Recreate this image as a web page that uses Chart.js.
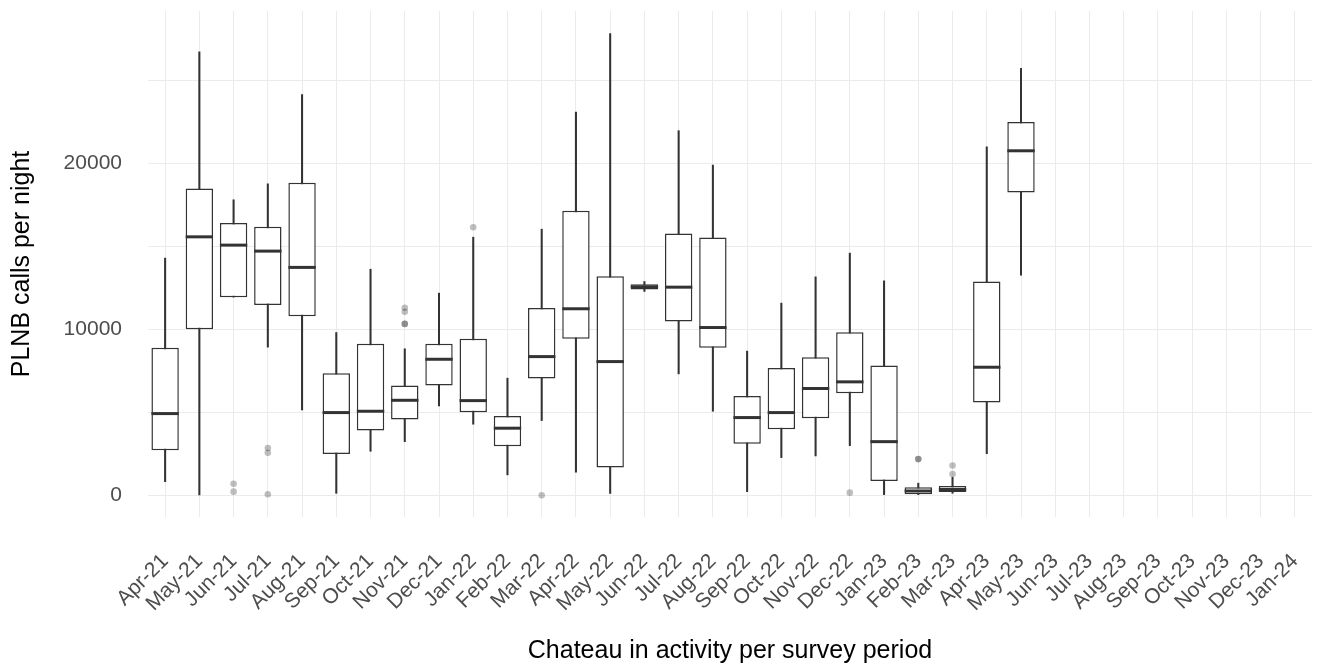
<!DOCTYPE html>
<html>
<head>
<meta charset="utf-8">
<script src="https://cdn.jsdelivr.net/npm/chart.js@4.4.1/dist/chart.umd.min.js"></script>
<style>
  html, body { margin: 0; padding: 0; background: #ffffff; }
  #c { display: block; }
</style>
</head>
<body>
<canvas id="c" width="1344" height="666"></canvas>
<script>
// ---- Data ----
const categories = ['Apr-21','May-21','Jun-21','Jul-21','Aug-21','Sep-21','Oct-21','Nov-21','Dec-21',
  'Jan-22','Feb-22','Mar-22','Apr-22','May-22','Jun-22','Jul-22','Aug-22','Sep-22','Oct-22','Nov-22','Dec-22',
  'Jan-23','Feb-23','Mar-23','Apr-23','May-23','Jun-23','Jul-23','Aug-23','Sep-23','Oct-23','Nov-23','Dec-23','Jan-24'];

const whiskerLow  = [820, 30, 11930, 8920, 5140, 120, 2650, 3230, 5380, 4280, 1230, 4500, 1390, 120, 12270, 7310, 5060, 220, 2270, 2370, 2990, 40, 40, 120, 2510, 13250, null, null, null, null, null, null, null, null];
const q1          = [2710, 10000, 11930, 11450, 10780, 2490, 3900, 4560, 6610, 5000, 2950, 7030, 9420, 1670, 12390, 10460, 8880, 3110, 3980, 4640, 6140, 860, 60, 200, 5580, 18230, null, null, null, null, null, null, null, null];
const median      = [4920, 15560, 15060, 14700, 13720, 4980, 5060, 5720, 8190, 5700, 4040, 8350, 11230, 8050, 12550, 12530, 10100, 4680, 4980, 6430, 6830, 3230, 260, 350, 7710, 20740, null, null, null, null, null, null, null, null];
const q3          = [8890, 18470, 16400, 16160, 18810, 7350, 9120, 6610, 9120, 9420, 4780, 11270, 17130, 13190, 12710, 15760, 15520, 5980, 7670, 8310, 9820, 7810, 480, 560, 12870, 22470, null, null, null, null, null, null, null, null];
const whiskerHigh = [14280, 26690, 17790, 18750, 24120, 9800, 13610, 8820, 12170, 15540, 7050, 16020, 23070, 27790, 12870, 21950, 19880, 8680, 11570, 13150, 14580, 12910, 730, 1080, 20980, 25700, null, null, null, null, null, null, null, null];

const outlierMonths = ['Jun-21','Jun-21','Jul-21','Jul-21','Jul-21','Nov-21','Nov-21','Nov-21','Nov-21','Jan-22','Mar-22','Dec-22','Feb-23','Feb-23','Mar-23','Mar-23'];
const outlierValues = [700, 220, 2850, 2560, 60, 11290, 11050, 10320, 10320, 16140, 0, 160, 2180, 2180, 1790, 1280];

const yTickValues = [0, 5000, 10000, 15000, 20000, 25000];
const yLabelEvery = 10000;

const yTitle = 'PLNB calls per night';
const xTitle = 'Chateau in activity per survey period';

// ---- Build datasets ----
const boxData = categories.map((c, i) => q1[i] == null ? null : [q1[i], q3[i]]);
const whiskerData = categories.map((c, i) => whiskerLow[i] == null ? null : [whiskerLow[i], whiskerHigh[i]]);
const outlierData = outlierMonths.map((m, i) => ({ x: m, y: outlierValues[i] }));

const FONT = "'Liberation Sans', Arial, sans-serif";
const DARK = '#333333';
const GRID = '#EBEBEB';

const medianPlugin = {
  id: 'medianLines',
  afterDatasetsDraw(chart) {
    const meta = chart.getDatasetMeta(1);
    const yScale = chart.scales.y;
    const ctx = chart.ctx;
    ctx.save();
    ctx.strokeStyle = DARK;
    ctx.lineWidth = 3;
    meta.data.forEach((el, i) => {
      if (median[i] == null) return;
      const py = yScale.getPixelForValue(median[i]);
      ctx.beginPath();
      ctx.moveTo(el.x - el.width / 2, py);
      ctx.lineTo(el.x + el.width / 2, py);
      ctx.stroke();
    });
    ctx.restore();
  }
};

new Chart(document.getElementById('c').getContext('2d'), {
  type: 'bar',
  data: {
    labels: categories,
    datasets: [
      {
        type: 'bar',
        data: whiskerData,
        backgroundColor: DARK,
        borderWidth: 0,
        barThickness: 1.4,
        grouped: false,
        order: 2
      },
      {
        type: 'bar',
        data: boxData,
        backgroundColor: '#ffffff',
        borderColor: DARK,
        borderWidth: 1.5,
        borderSkipped: false,
        barPercentage: 0.8,
        categoryPercentage: 1,
        grouped: false,
        order: 1
      },
      {
        type: 'scatter',
        data: outlierData,
        backgroundColor: 'rgba(0,0,0,0.25)',
        borderWidth: 0,
        pointRadius: 3.3,
        order: 0
      }
    ]
  },
  options: {
    responsive: false,
    animation: false,
    devicePixelRatio: 1,
    layout: { padding: { top: 11, right: 32, bottom: 0, left: 0 } },
    plugins: { legend: { display: false }, tooltip: { enabled: false } },
    scales: {
      x: {
        type: 'category',
        offset: true,
        grid: { offset: false, color: GRID, lineWidth: 1, drawTicks: false },
        border: { display: false },
        ticks: {
          autoSkip: false,
          maxRotation: 45,
          minRotation: 45,
          padding: 32,
          color: '#4D4D4D',
          font: { family: FONT, size: 21 }
        },
        title: {
          display: true,
          text: xTitle,
          color: '#000000',
          font: { family: FONT, size: 25 },
          padding: { top: 0, bottom: 0 }
        },
        afterFit(scale) {
          scale.height = 149;
          scale.paddingLeft = 0;
          scale.paddingRight = 0;
        }
      },
      y: {
        min: -1306,
        max: 29155,
        grid: { color: GRID, lineWidth: 1, drawTicks: false },
        border: { display: false },
        afterBuildTicks(scale) { scale.ticks = yTickValues.map(v => ({ value: v })); },
        ticks: {
          padding: 26,
          color: '#4D4D4D',
          font: { family: FONT, size: 21 },
          callback: (v) => (v % yLabelEvery === 0 ? String(v) : '')
        },
        title: {
          display: true,
          text: yTitle,
          color: '#000000',
          font: { family: FONT, size: 25 },
          padding: { top: 7, bottom: 0 }
        },
        afterFit(scale) {
          scale.width = 148;
          scale.paddingTop = 0;
          scale.paddingBottom = 0;
        }
      }
    }
  },
  plugins: [medianPlugin]
});
</script>
</body>
</html>
